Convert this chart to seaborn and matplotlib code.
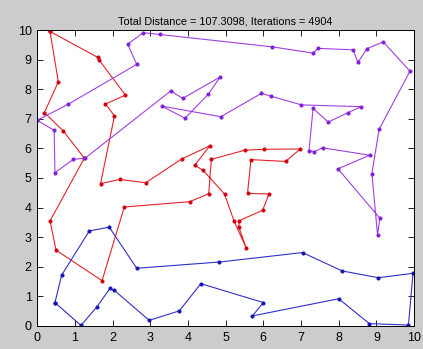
import numpy as np
import pandas as pd
import seaborn as sns
import matplotlib
matplotlib.use("Agg")
import matplotlib.pyplot as plt

# three salesman routes, city coordinates (in visiting order)
red_x = [0.34, 1.60, 1.64, 2.34, 1.81, 2.05, 1.68, 2.19, 2.88, 3.83, 4.58, 4.18, 4.40, 4.97,
         5.22, 5.55, 5.35, 5.35, 5.98, 6.15, 5.58, 5.67, 6.59, 6.98, 6.02, 5.51, 4.62, 4.55,
         4.05, 2.31, 1.72, 0.50, 0.34, 1.25, 0.69, 0.19, 0.56]
red_y = [9.95, 9.08, 8.99, 7.80, 7.50, 7.10, 4.81, 4.95, 4.84, 5.64, 6.09, 5.43, 5.26, 4.46,
         3.55, 2.62, 3.34, 3.55, 3.91, 4.46, 4.48, 5.62, 5.56, 5.98, 5.97, 5.94, 5.63, 4.47,
         4.20, 4.02, 1.53, 2.56, 3.55, 5.67, 6.59, 7.21, 8.25]

blue_x = [0.47, 0.65, 1.38, 1.91, 2.64, 4.83, 7.04, 8.09, 9.05, 9.97, 9.85, 8.81, 8.00, 5.71,
          6.00, 4.34, 3.77, 2.97, 2.05, 1.93, 1.58, 1.16]
blue_y = [0.79, 1.72, 3.21, 3.34, 1.95, 2.16, 2.48, 1.86, 1.63, 1.78, 0.03, 0.08, 0.92, 0.34,
          0.79, 1.43, 0.51, 0.19, 1.20, 1.27, 0.64, 0.02]

purple_x = [0.00, 0.82, 2.64, 2.40, 2.81, 3.25, 6.24, 7.32, 7.45, 8.38, 8.51, 8.75, 9.18, 9.89,
            9.07, 8.88, 9.03, 9.09, 7.98, 8.82, 7.57, 7.35, 7.21, 7.32, 7.72, 8.25, 8.60, 7.01,
            6.19, 5.95, 4.87, 3.30, 3.92, 4.54, 4.85, 3.86, 3.54, 1.27, 0.96, 0.47, 0.45]
purple_y = [6.95, 7.49, 8.84, 9.52, 9.91, 9.85, 9.43, 9.22, 9.38, 9.33, 8.91, 9.37, 9.60, 8.61,
            6.64, 5.15, 3.07, 3.64, 5.31, 5.77, 6.02, 5.89, 5.92, 7.35, 6.89, 7.21, 7.41, 7.47,
            7.77, 7.86, 7.07, 7.43, 7.02, 7.83, 8.41, 7.69, 7.94, 5.67, 5.63, 5.18, 6.61]

routes = {"red": (red_x, red_y, "#e3242b", "#d00010"),
          "blue": (blue_x, blue_y, "#3030c8", "#1515b0"),
          "purple": (purple_x, purple_y, "#a040e0", "#8020d8")}

title = "Total Distance = 107.3098, Iterations = 4904"

plt.rcParams["font.family"] = ["Liberation Sans", "DejaVu Sans"]
fig = plt.figure(figsize=(4.23, 3.49), dpi=100, facecolor="#cccccc")
ax = fig.add_axes([0.088, 0.066, 0.891, 0.848])
ax.set_facecolor("white")

for name, (xs, ys, lc, mc) in routes.items():
    # close the tour by going back to the first city
    df = pd.DataFrame({"x": xs + xs[:1], "y": ys + ys[:1]})
    sns.lineplot(data=df, x="x", y="y", sort=False, estimator=None, ax=ax,
                 color=lc, linewidth=0.8, marker="o", markersize=2.2,
                 markerfacecolor=mc, markeredgecolor=mc)

ax.set_xlim(0, 10)
ax.set_ylim(0, 10)
ax.set_xticks(range(0, 11))
ax.set_yticks(range(0, 11))
ax.set_xlabel("")
ax.set_ylabel("")
ax.tick_params(direction="in", top=True, right=True, length=4, width=0.6,
               labelsize=9, pad=4)
for s in ax.spines.values():
    s.set_linewidth(0.7)
ax.set_title(title, fontsize=7.8, pad=4)

fig.savefig("out.png", dpi=100, facecolor=fig.get_facecolor())
